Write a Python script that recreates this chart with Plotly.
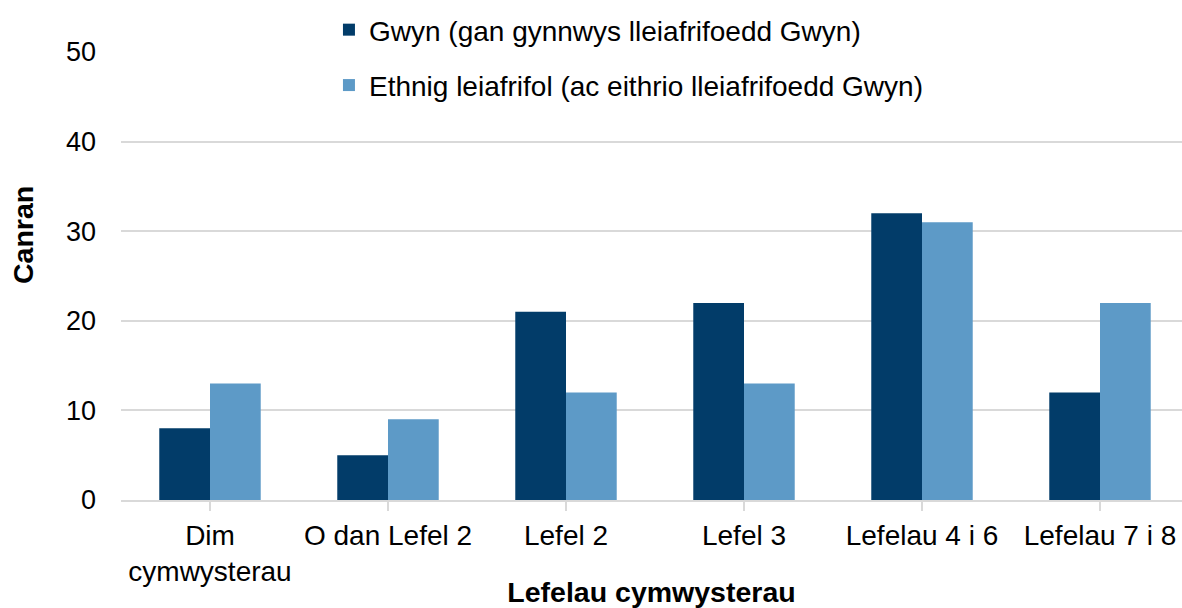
import plotly.graph_objects as go

categories = ["Dim<br>cymwysterau", "O dan Lefel 2", "Lefel 2", "Lefel 3", "Lefelau 4 i 6", "Lefelau 7 i 8"]
gwyn = [8, 5, 21, 22, 32, 12]
ethnig = [13, 9, 12, 13, 31, 22]
series_names = ["Gwyn (gan gynnwys lleiafrifoedd Gwyn)", "Ethnig leiafrifol (ac eithrio lleiafrifoedd Gwyn)"]
y_ticks = [0, 10, 20, 30, 40, 50]

FONT = "Liberation Sans, Arial, sans-serif"

fig = go.Figure()
fig.add_trace(go.Bar(x=list(range(len(categories))), y=gwyn, name=series_names[0],
                     marker=dict(color="#023c69", line=dict(width=0)), legendgroup="a"))
fig.add_trace(go.Bar(x=list(range(len(categories))), y=ethnig, name=series_names[1],
                     marker=dict(color="#5d9ac7", line=dict(width=0)), legendgroup="b"))

fig.update_layout(
    width=1182, height=608,
    margin=dict(l=121, r=0, t=52, b=108, autoexpand=False),
    paper_bgcolor="white", plot_bgcolor="white",
    font=dict(family=FONT, size=28, color="#000000"),
    barmode="group", bargap=0.43, bargroupgap=0,
    showlegend=True,
    legend=dict(x=0.196, y=1.105, xanchor="left", yanchor="top",
                font=dict(size=28), tracegroupgap=16, traceorder="grouped",
                bgcolor="rgba(0,0,0,0)", itemwidth=30),
    xaxis=dict(
        tickmode="array", tickvals=list(range(len(categories))), ticktext=categories,
        range=[-0.5, 5.4607], showline=True, linecolor="#d9d9d9", linewidth=2,
        ticks="outside", tickson="boundaries", ticklen=9, tickcolor="#d9d9d9", tickwidth=2,
        showgrid=False, zeroline=False, automargin=False,
        tickfont=dict(size=28),
        title=dict(text="<b>Lefelau cymwysterau</b>", font=dict(size=28.5), standoff=6),
    ),
    yaxis=dict(
        range=[0, 50], tickvals=y_ticks, showgrid=True, gridcolor="#d9d9d9", gridwidth=2,
        zeroline=False, showline=False, ticks="", ticklabelstandoff=24, automargin=False,
        tickfont=dict(size=27),
    ),
    annotations=[dict(text="<b>Canran</b>", textangle=-90, xref="paper", yref="paper",
                      x=-0.0924, y=0.5915, xanchor="center", yanchor="middle",
                      showarrow=False, font=dict(size=28.5))],
)

fig.write_html("out.html",
               config={"displayModeBar": False},
               post_script="document.body.style.margin='0';document.body.style.overflow='hidden';")
